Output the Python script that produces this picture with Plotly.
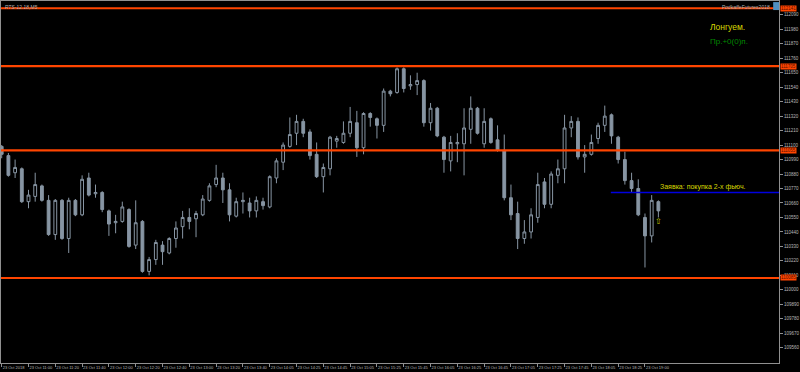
import plotly.graph_objects as go

opens = [111090, 111020, 110890, 110920, 110670, 110710, 110790, 110680, 110420, 110680,
         110390, 110680, 110570, 110850, 110730, 110740, 110600, 110510, 110520, 110610,
         110340, 110520, 110140, 110230, 110340, 110280, 110390, 110480, 110550, 110540,
         110570, 110680, 110800, 110850, 110760, 110560, 110670, 110660, 110600, 110670,
         110630, 110850, 110970, 111090, 111190, 111280, 111200, 111030, 110860, 110920,
         111130, 111120, 111190, 111270, 111080, 111340, 111300, 111250, 111510, 111500,
         111680, 111550, 111560, 111590, 111270, 111380, 111160, 110980, 111110, 111110,
         111220, 111380, 111110, 111300, 111140, 111060, 110700, 110580, 110390, 110440,
         110550, 110820, 110650, 110870, 110920, 111230, 111280, 111010, 111030, 111150,
         111250, 111330, 111160, 110990, 110830, 110770, 110550, 110410, 110670]
highs = [111100, 111040, 110990, 110930, 110760, 110890, 110800, 110720, 110690, 110690,
         110700, 110690, 110870, 110890, 110800, 110750, 110610, 110570, 110670, 110620,
         110680, 110530, 110250, 110380, 110370, 110400, 110520, 110600, 110620, 110600,
         110720, 110810, 110950, 110890, 110810, 110700, 110740, 110700, 110710, 110700,
         110870, 111000, 111120, 111310, 111330, 111300, 111220, 111120, 110960, 111170,
         111170, 111280, 111390, 111360, 111350, 111350, 111310, 111530, 111520, 111690,
         111690, 111630, 111650, 111600, 111420, 111390, 111170, 111170, 111190, 111380,
         111470, 111390, 111380, 111310, 111250, 111180, 110800, 110670, 110530, 110620,
         110890, 110850, 110900, 110990, 111330, 111320, 111310, 111100, 111180, 111270,
         111400, 111340, 111170, 111050, 110890, 110840, 110580, 110720, 110680]
lows = [111000, 110860, 110850, 110660, 110620, 110670, 110670, 110410, 110380, 110380,
        110280, 110560, 110560, 110710, 110700, 110590, 110410, 110430, 110510, 110320,
        110310, 110130, 110110, 110190, 110190, 110270, 110320, 110390, 110460, 110400,
        110560, 110670, 110780, 110660, 110520, 110550, 110580, 110550, 110550, 110610,
        110620, 110810, 110910, 111080, 111100, 111160, 110990, 110850, 110740, 110870,
        111080, 111110, 111160, 111010, 111030, 111240, 111150, 111200, 111470, 111490,
        111500, 111520, 111480, 111240, 111210, 111160, 110890, 110900, 110970, 110870,
        111110, 111180, 111080, 111110, 111050, 110680, 110530, 110310, 110350, 110390,
        110510, 110620, 110620, 110810, 110810, 111160, 110990, 110890, 111020, 111110,
        111200, 111110, 110960, 110800, 110740, 110560, 110170, 110360, 110550]
closes = [111030, 110870, 110930, 110670, 110720, 110800, 110680, 110420, 110680, 110390,
          110680, 110570, 110840, 110720, 110740, 110610, 110500, 110520, 110630, 110330,
          110510, 110140, 110230, 110360, 110290, 110390, 110470, 110550, 110520, 110580,
          110690, 110790, 110850, 110760, 110570, 110670, 110680, 110600, 110680, 110640,
          110860, 110980, 111100, 111180, 111280, 111190, 111020, 110860, 110930, 111160,
          111150, 111190, 111280, 111080, 111340, 111310, 111250, 111510, 111490, 111680,
          111530, 111560, 111590, 111270, 111380, 111170, 110990, 111120, 111120, 111230,
          111380, 111190, 111280, 111120, 111060, 110700, 110570, 110390, 110440, 110570,
          110800, 110650, 110880, 110920, 111230, 111280, 111010, 111030, 111120, 111250,
          111320, 111170, 110990, 110830, 110770, 110570, 110410, 110680, 110600]

time_labels = ["23 Oct 2018", "23 Oct 11:00", "23 Oct 11:20", "23 Oct 11:40", "23 Oct 12:00",
               "23 Oct 12:20", "23 Oct 12:40", "23 Oct 13:00", "23 Oct 13:20", "23 Oct 13:40",
               "23 Oct 14:05", "23 Oct 14:25", "23 Oct 14:45", "23 Oct 15:05", "23 Oct 15:25",
               "23 Oct 15:45", "23 Oct 16:05", "23 Oct 16:25", "23 Oct 16:45", "23 Oct 17:05",
               "23 Oct 17:25", "23 Oct 17:45", "23 Oct 18:05", "23 Oct 18:25", "23 Oct 19:00"]
label_every = 4

price_ticks = [109560 + 110 * k for k in range(24)]

levels = [112140, 111700, 111060, 110090]
level_texts = ["112141", "111705", "111055", "110085"]

order_price = 110740
order_start = 91
order_text = "Заявка: покупка 2-х фьюч."
arrow_price = 110520

symbol_text = "RTS-12.18,M5"
brand_text = "PodkaffeFutures2018"
status_text = "Лонгуем."
profit_text = "Пр.+0(0)п."

n = len(opens)
xs = list(range(n))
x_right = 116.0
y_lo, y_hi = 109444, 112195

candle_col = "#8795a3"

fig = go.Figure()
fig.add_trace(go.Candlestick(
    x=xs, open=opens, high=highs, low=lows, close=closes,
    increasing=dict(line=dict(color=candle_col, width=1), fillcolor="#000000"),
    decreasing=dict(line=dict(color=candle_col, width=1), fillcolor=candle_col),
    whiskerwidth=0, hoverinfo="skip", showlegend=False,
))

shapes = []
for lv in levels:
    shapes.append(dict(type="line", xref="paper", x0=0, x1=1, yref="y", y0=lv, y1=lv,
                       line=dict(color="#ff4500", width=2.2), layer="above"))
shapes.append(dict(type="line", xref="x", x0=order_start - 0.1, x1=x_right, yref="y",
                   y0=order_price, y1=order_price, line=dict(color="#0000e0", width=1.4)))
# small icon top-right
shapes.append(dict(type="rect", xref="paper", yref="paper", x0=0.9925, x1=1.0,
                   y0=0.975, y1=0.997, fillcolor="#4f8fc0", line=dict(width=0)))

annotations = []
for lv, txt in zip(levels, level_texts):
    annotations.append(dict(xref="paper", x=1.0, xanchor="left", xshift=1, y=lv, yref="y",
                            text=txt, showarrow=False, bgcolor="#ff4500",
                            font=dict(size=4.5, color="#5a1000", family="Liberation Sans"),
                            borderpad=0))
annotations += [
    dict(xref="paper", yref="paper", x=0.002, y=0.998, xanchor="left", yanchor="top",
         text=symbol_text, showarrow=False,
         font=dict(size=5, color="#b0b0b0", family="Liberation Sans")),
    dict(xref="paper", yref="paper", x=0.991, y=0.998, xanchor="right", yanchor="top",
         text=brand_text, showarrow=False,
         font=dict(size=5, color="#b0b0b0", family="Liberation Sans")),
    dict(xref="x", yref="y", x=105.4, y=112000, xanchor="left", yanchor="middle",
         text=status_text, showarrow=False,
         font=dict(size=8.5, color="#d8d800", family="Liberation Sans")),
    dict(xref="x", yref="y", x=105.4, y=111884, xanchor="left", yanchor="middle",
         text=profit_text, showarrow=False,
         font=dict(size=8, color="#008800", family="Liberation Sans")),
    dict(xref="x", yref="y", x=n - 1, y=order_price, xanchor="left", yanchor="bottom",
         text=order_text, showarrow=False, yshift=-1,
         font=dict(size=7, color="#d8d800", family="Liberation Sans")),
    dict(xref="x", yref="y", x=n - 1, y=arrow_price, xanchor="center", yanchor="middle",
         text="⇧", showarrow=False,
         font=dict(size=8, color="#c8c800", family="DejaVu Sans")),
]

fig.update_layout(
    width=800, height=372,
    margin=dict(l=1, r=21, t=1, b=9, pad=0, autoexpand=False),
    paper_bgcolor="#000000", plot_bgcolor="#000000",
    boxgap=0.4,
    shapes=shapes, annotations=annotations,
    xaxis=dict(range=[-0.104, x_right], tickmode="array",
               tickvals=[i * label_every for i in range(len(time_labels))],
               ticktext=time_labels, ticks="outside", ticklen=3, tickcolor="#909090",
               tickangle=0, automargin=False,
               tickfont=dict(size=4, color="#b8b8b8", family="Liberation Sans"),
               ticklabelposition="outside right",
               showgrid=False, zeroline=False, rangeslider=dict(visible=False),
               showline=True, linecolor="#909090", linewidth=1, mirror=True, fixedrange=True),
    yaxis=dict(range=[y_lo, y_hi], side="right", tickmode="array", tickvals=price_ticks,
               ticktext=[str(v) for v in price_ticks], ticks="outside", ticklen=3,
               tickcolor="#909090", automargin=False,
               tickfont=dict(size=4.5, color="#b8b8b8", family="Liberation Sans"),
               showgrid=False, zeroline=False,
               showline=True, linecolor="#909090", linewidth=1, mirror=True, fixedrange=True),
)

fig.write_html("out.html")
